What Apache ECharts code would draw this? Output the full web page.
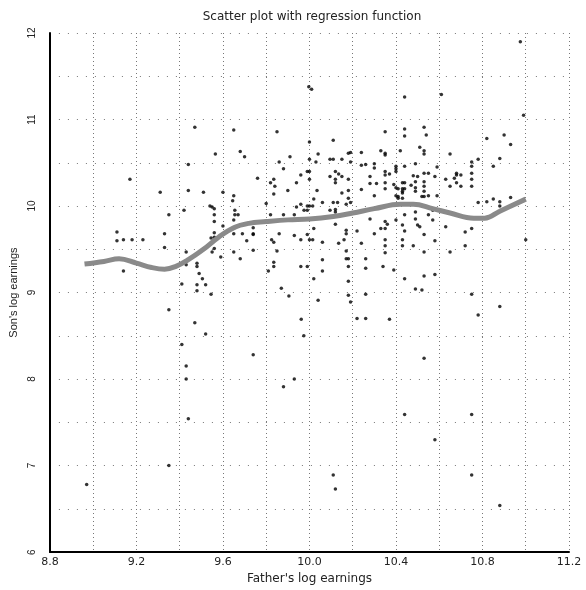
<!DOCTYPE html>
<html>
<head>
<meta charset="utf-8">
<script src="https://cdn.jsdelivr.net/npm/echarts@6/dist/echarts.min.js"></script>
<style>
html,body{margin:0;padding:0;background:#fff;}
#chart{width:586px;height:590px;}
</style>
</head>
<body>
<div id="chart"></div>
<script>
// Father's log earnings (x) and Son's log earnings (y)
const fatherLogEarnings = [
8.97,9.11,9.11,9.14,9.18,9.23,9.14,9.17,9.31,9.33,9.33,9.35,9.35,9.35,9.41,9.41,9.42,9.43,9.43,9.43,9.43,
9.44,9.44,9.44,9.47,9.47,9.48,9.48,9.48,9.48,9.49,9.505,9.51,9.52,9.52,9.54,9.55,9.545,9.545,9.55,
9.56,9.56,9.56,9.56,9.56,9.56,9.565,9.59,9.60,9.60,9.645,9.65,9.65,9.655,9.655,9.67,9.65,9.65,9.65,9.65,
9.68,9.70,9.69,9.71,9.68,9.74,9.74,9.74,9.74,9.74,9.76,9.80,9.81,9.82,9.835,9.84,9.835,9.82,9.825,9.835,
9.835,9.835,9.85,9.85,9.86,9.86,9.87,9.88,9.88,9.88,9.90,9.905,9.91,9.93,9.93,9.93,9.94,9.94,
9.96,9.96,9.975,9.96,9.96,9.962,9.974,9.99,9.99,9.99,9.99,9.99,9.997,10.01,
10.0,10.0,10.0,10.0,10.0,10.0,10.015,10.015,10.02,10.02,10.02,10.03,10.035,10.04,10.04,
10.06,10.06,10.06,10.06,10.095,10.095,10.095,10.11,10.11,10.11,10.11,10.12,
10.12,10.12,10.12,10.12,10.12,10.12,10.13,10.135,10.135,10.15,10.15,10.15,10.16,
10.17,10.17,10.17,10.17,10.17,10.17,10.18,10.18,10.18,10.18,10.18,10.18,10.18,10.18,
10.19,10.19,10.19,10.19,10.22,10.22,10.24,10.24,10.24,10.24,10.26,10.26,10.26,10.26,10.26,
10.28,10.28,10.28,10.30,10.30,10.30,10.30,10.31,10.33,10.33,10.34,
10.35,10.35,10.35,10.35,10.35,10.35,10.35,10.35,10.35,10.35,10.35,10.35,10.36,10.37,10.37,10.39,10.39,
10.40,10.40,10.40,10.40,10.40,10.40,10.41,10.41,10.41,10.42,10.43,10.43,10.43,10.43,10.43,10.43,10.43,10.43,
10.44,10.44,10.44,10.44,10.44,10.44,10.44,10.44,10.44,10.44,10.47,10.48,10.48,
10.49,10.49,10.49,10.49,10.49,10.49,10.49,10.50,10.50,10.51,10.51,10.52,10.52,
10.53,10.53,10.53,10.53,10.53,10.53,10.53,10.53,10.53,10.53,10.53,10.53,10.54,
10.55,10.55,10.55,10.57,10.57,10.58,10.58,10.58,10.58,10.59,10.59,10.61,10.63,10.63,
10.65,10.65,10.65,10.67,10.68,10.68,10.68,10.70,10.70,10.72,10.72,
10.75,10.75,10.75,10.75,10.75,10.75,10.75,10.75,10.75,10.78,10.78,10.78,10.82,10.82,10.85,10.85,
10.88,10.88,10.88,10.88,10.88,10.90,10.93,10.93,10.975,10.99,11.0
];
const sonLogEarnings = [
6.78,9.70,9.60,9.61,9.61,9.61,9.25,10.31,10.16,9.68,9.52,9.90,8.80,7.00,9.10,8.40,9.95,9.47,9.32,8.15,8.00,
10.18,10.48,7.54,10.91,8.65,9.34,9.30,9.09,9.02,9.22,9.16,10.16,9.09,8.52,10.00,9.99,9.63,8.98,9.47,
9.97,9.90,9.82,9.69,9.64,9.51,10.60,9.41,10.16,9.77,10.06,10.12,10.88,9.95,9.90,9.90,9.84,9.74,9.68,9.47,
10.63,10.57,9.68,9.60,9.39,9.75,9.68,9.67,9.49,8.28,10.32,10.03,9.25,10.27,10.31,10.23,10.14,9.90,9.61,9.58,
9.35,9.30,10.86,9.48,10.51,9.68,9.05,10.43,9.90,7.91,10.18,8.96,10.57,9.90,9.66,8.00,10.27,9.99,
10.36,10.02,9.95,9.61,9.30,8.69,8.50,10.40,9.95,9.67,9.30,10.00,11.38,11.35,
10.74,10.54,10.31,10.40,10.00,9.61,10.00,9.61,10.08,9.74,9.16,10.51,10.18,10.60,8.91,
10.04,9.58,9.38,9.25,10.34,9.95,10.54,10.76,10.54,10.04,6.89,6.73,
10.40,10.31,10.27,9.96,9.93,9.79,10.04,10.37,9.57,10.54,10.34,10.15,9.61,
10.02,9.91,9.72,9.68,9.48,9.39,10.61,10.31,10.18,10.09,9.39,9.30,9.13,8.97,
10.62,10.51,10.04,8.89,9.71,8.70,10.62,10.47,10.19,9.57,10.48,9.39,9.28,8.98,8.70,
10.34,10.26,9.85,10.49,10.44,10.12,9.68,10.26,10.64,9.74,9.30,
10.86,10.61,10.59,10.40,10.36,10.27,10.20,9.82,9.74,9.61,9.54,9.46,9.79,10.37,8.69,10.25,9.26,
10.46,10.40,10.21,10.12,9.84,10.43,10.20,10.09,10.11,10.64,10.20,10.09,9.78,9.61,9.54,10.17,10.15,10.27,
11.26,10.89,10.81,10.46,10.20,9.90,9.71,9.16,7.59,10.27,10.24,10.35,9.54,
10.49,10.28,10.21,10.17,9.93,9.85,9.04,10.34,9.78,10.68,9.76,10.11,9.03,
10.91,10.64,10.60,10.38,10.28,10.23,10.17,10.11,9.67,9.47,9.19,8.24,10.82,
10.38,10.12,9.90,9.95,9.84,10.34,9.60,9.21,7.30,10.45,10.12,11.29,10.31,9.76,
10.60,10.23,9.47,10.32,10.38,10.36,10.27,10.36,10.23,9.70,9.54,
10.51,10.46,10.38,10.31,10.23,9.74,8.98,7.59,6.89,10.54,10.04,8.74,10.78,10.05,10.46,10.08,
10.55,10.05,10.00,8.84,6.54,10.82,10.71,10.10,11.90,11.05,9.61
];

// Regression function (smooth curve)
const regressionX = [8.96,9.05,9.12,9.20,9.27,9.33,9.38,9.44,9.51,9.58,9.65,9.72,9.80,9.90,10.00,10.11,10.20,10.30,10.42,10.48,10.57,10.65,10.76,10.81,10.88,11.00];
const regressionY = [9.33,9.36,9.39,9.34,9.29,9.27,9.30,9.38,9.50,9.64,9.75,9.80,9.82,9.84,9.85,9.88,9.92,9.97,10.02,10.02,9.97,9.92,9.86,9.86,9.94,10.08];

const xTickValues = [8.8, 9.2, 9.6, 10.0, 10.4, 10.8, 11.2];
const yTickValues = [6, 7, 8, 9, 10, 11, 12];

const points = fatherLogEarnings.map((x, i) => [x, sonLogEarnings[i]]);
const curve = regressionX.map((x, i) => [x, regressionY[i]]);

const chart = echarts.init(document.getElementById('chart'), null, {renderer: 'canvas'});
const font = 'DejaVu Sans';
chart.setOption({
  animation: false,
  backgroundColor: '#fff',
  title: {
    text: 'Scatter plot with regression function',
    left: 307, top: 6, textAlign: 'center',
    textStyle: {fontFamily: font, fontSize: 12, fontWeight: 'normal', color: '#222'}
  },
  grid: {left: 49, right: 17, top: 33, bottom: 37},
  xAxis: {
    type: 'value', min: xTickValues[0], max: xTickValues[xTickValues.length - 1], interval: 0.4,
    name: "Father's log earnings", nameLocation: 'middle', nameGap: 20,
    nameTextStyle: {fontFamily: font, fontSize: 12, color: '#222'},
    axisLine: {show: true, lineStyle: {color: '#000', width: 2}},
    axisTick: {show: false},
    axisLabel: {fontFamily: font, fontSize: 11, color: '#222', margin: 5,
      formatter: v => v.toFixed(1)},
    splitLine: {show: true, lineStyle: {color: '#777', width: 1, type: [1, 3]}},
    minorTick: {show: false, splitNumber: 2},
    minorSplitLine: {show: true, lineStyle: {color: '#777', width: 1, type: [1, 3]}}
  },
  yAxis: {
    type: 'value', min: yTickValues[0], max: yTickValues[yTickValues.length - 1], interval: 1,
    name: "Son's log earnings", nameLocation: 'middle', nameGap: 20, nameRotate: 90,
    nameTextStyle: {fontFamily: 'Liberation Sans', fontSize: 11, color: '#222'},
    axisLine: {show: true, lineStyle: {color: '#000', width: 2}},
    axisTick: {show: false},
    axisLabel: {fontFamily: 'Liberation Sans', fontSize: 10, color: '#222', rotate: 90, margin: 13},
    splitLine: {show: true, lineStyle: {color: '#777', width: 1, type: [1, 8]}},
    minorTick: {show: false, splitNumber: 2},
    minorSplitLine: {show: true, lineStyle: {color: '#777', width: 1, type: [1, 8]}}
  },
  series: [
    {
      type: 'scatter', data: points, symbol: 'circle', symbolSize: 3.5,
      itemStyle: {color: '#000'}, z: 2
    },
    {
      type: 'line', data: curve, smooth: 0.4, showSymbol: false, symbol: 'none',
      lineStyle: {color: '#8a8a8a', width: 5}, z: 3
    }
  ]
});
</script>
</body>
</html>
